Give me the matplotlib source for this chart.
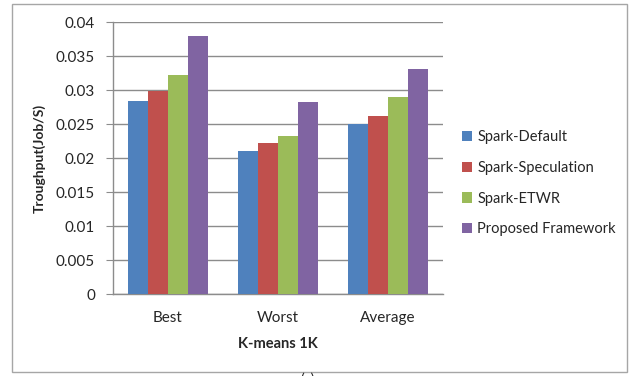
import matplotlib
matplotlib.use("Agg")
import matplotlib.pyplot as plt
import numpy as np
from matplotlib.patches import Rectangle

categories = ["Best", "Worst", "Average"]
series_names = ["Spark-Default", "Spark-Speculation", "Spark-ETWR", "Proposed Framework"]
spark_default = [0.0284, 0.0211, 0.0250]
spark_speculation = [0.0298, 0.0222, 0.0262]
spark_etwr = [0.0322, 0.0233, 0.0289]
proposed = [0.0379, 0.0282, 0.0331]
yticks = [0, 0.005, 0.01, 0.015, 0.02, 0.025, 0.03, 0.035, 0.04]
ytick_labels = ["0", "0.005", "0.01", "0.015", "0.02", "0.025", "0.03", "0.035", "0.04"]
colors = ["#4F81BD", "#C0504D", "#9BBB59", "#8064A2"]

plt.rcParams['font.family'] = ['Lato', 'DejaVu Sans']
W, H = 633, 376
fig = plt.figure(figsize=(W/100, H/100), dpi=100)
fig.patch.set_facecolor("white")

# outer frame
fig.patches.append(Rectangle((12/W, 1-372/H), (627-12)/W, (372-4)/H,
                             transform=fig.transFigure, fill=False,
                             edgecolor="#A6A6A6", linewidth=1.0))

left, right, top, bottom = 113, 443, 22, 294
ax = fig.add_axes([left/W, 1-bottom/H, (right-left)/W, (bottom-top)/H])

x = np.arange(len(categories))
bw = 0.184
data = [spark_default, spark_speculation, spark_etwr, proposed]
for i, (vals, name, c) in enumerate(zip(data, series_names, colors)):
    ax.bar(x + (i-1.5)*bw, vals, width=bw, color=c, label=name, zorder=3)

ax.set_xlim(-0.5, 2.5)
ax.set_ylim(0, 0.04)
ax.set_yticks(yticks)
ax.set_yticklabels(ytick_labels)
ax.set_xticks(x)
ax.set_xticklabels(categories)
ax.yaxis.grid(True, color="#8C8C8C", linewidth=1.0, zorder=0)
ax.set_axisbelow(True)
for s in ["top", "right"]:
    ax.spines[s].set_visible(False)
for s in ["left", "bottom"]:
    ax.spines[s].set_color("#8C8C8C")
    ax.spines[s].set_linewidth(1.0)
ax.tick_params(axis='y', length=5, color="#8C8C8C", labelsize=11, labelcolor="#262626", pad=8)
ax.tick_params(axis='x', length=0, labelsize=11, labelcolor="#262626", pad=12)

ax.set_ylabel("Troughput(Job/S)", fontsize=10, fontweight='bold', color="#262626", labelpad=7)
ax.set_xlabel("K-means 1K", fontsize=10.5, fontweight='bold', color="#262626", labelpad=9)

leg = fig.legend(loc='upper left', bbox_to_anchor=(449/W, 1-117/H), frameon=False,
                 fontsize=10.5, handlelength=0.7, handleheight=0.7, handletextpad=0.35,
                 labelspacing=1.15, labelcolor="#262626")

fig.text(308/W, 1-372/H, "(a)", ha='center', va='top', fontsize=10, color="#262626")

fig.savefig("out.png", dpi=100)
